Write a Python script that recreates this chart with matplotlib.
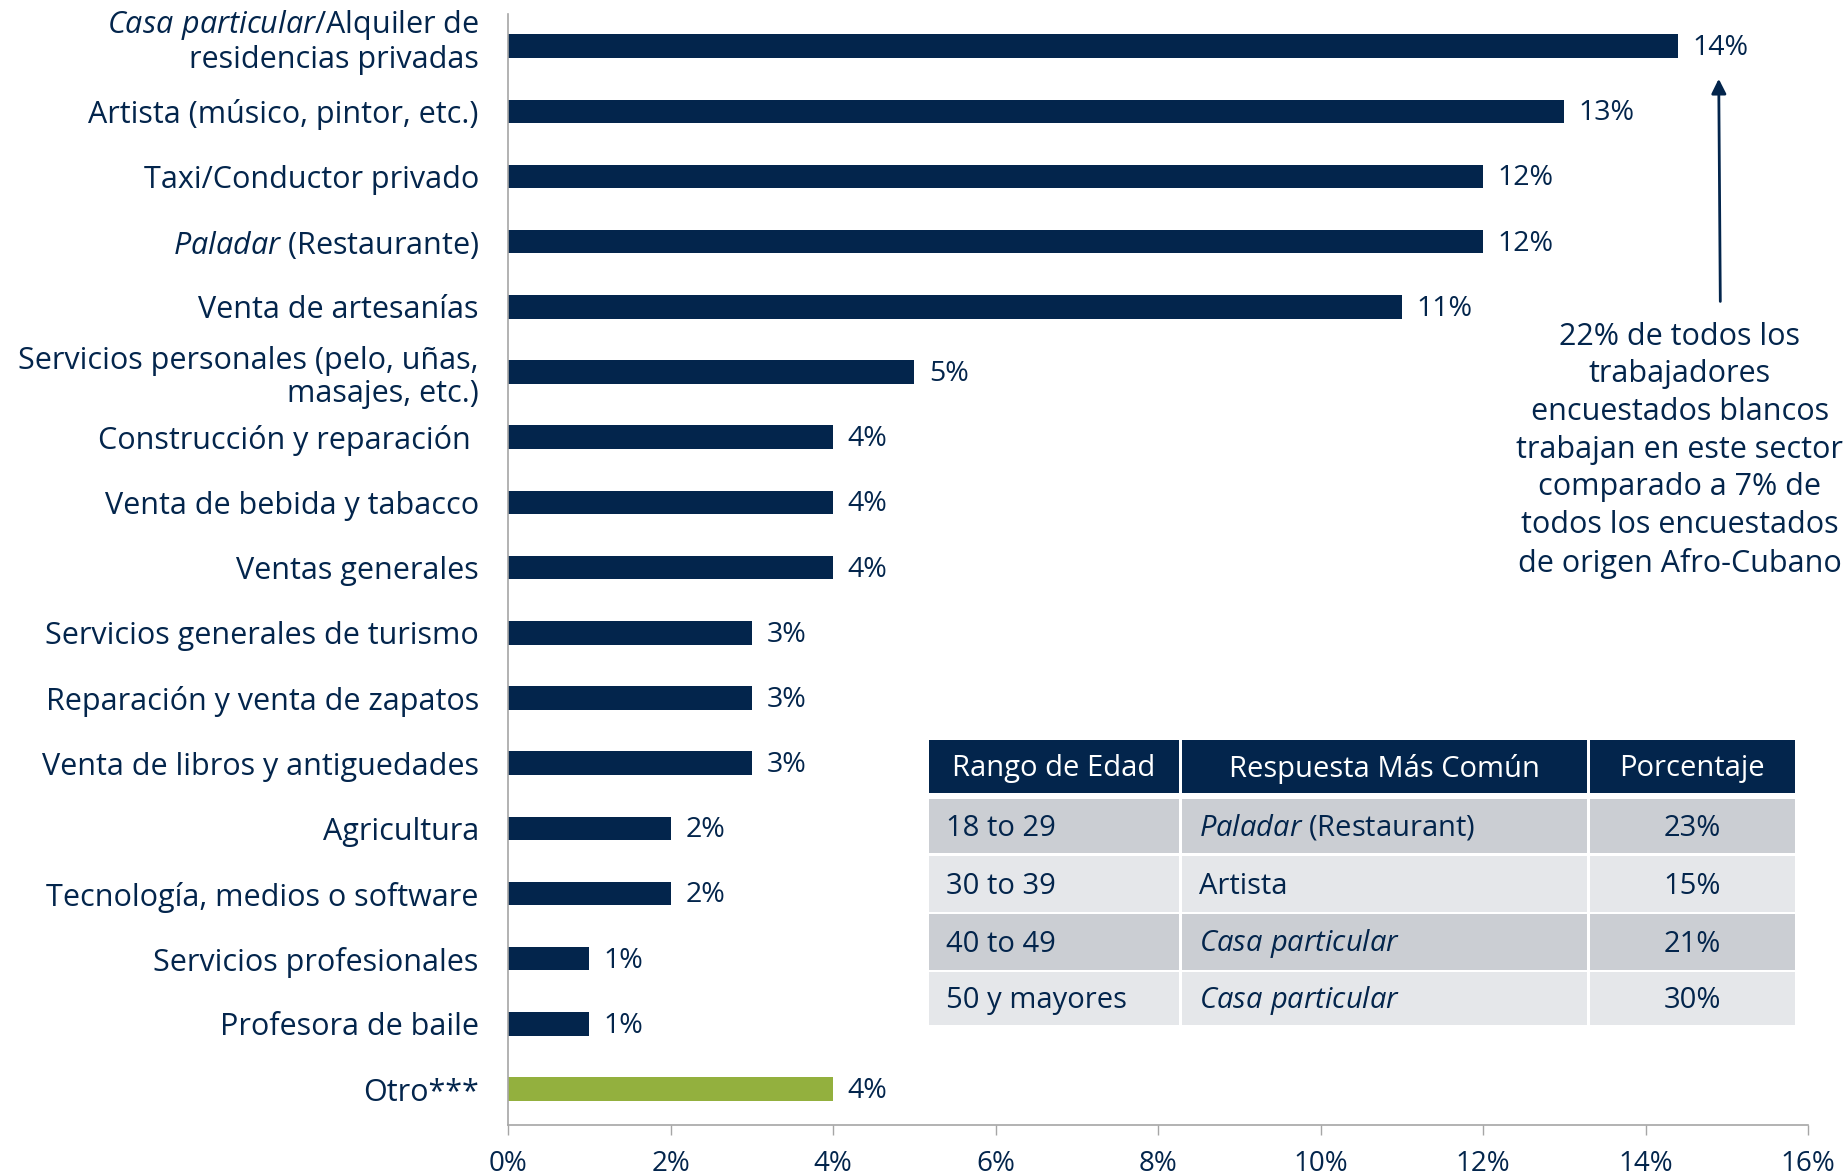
import numpy as np
import matplotlib.pyplot as plt
from matplotlib.patches import Rectangle

plt.rcParams['font.family'] = ['Open Sans', 'DejaVu Sans']
plt.rcParams['mathtext.fontset'] = 'custom'
plt.rcParams['mathtext.rm'] = 'Open Sans'
plt.rcParams['mathtext.it'] = 'Open Sans:italic'

NAVY = '#03254c'
GREEN = '#93b03e'
GRIS = '#a6a6a6'

#### datos del grafico
categorias = [
    r'$\it{Casa\ particular}$/Alquiler de' + '\nresidencias privadas',
    'Artista (músico, pintor, etc.)',
    'Taxi/Conductor privado',
    r'$\it{Paladar}$ (Restaurante)',
    'Venta de artesanías',
    'Servicios personales (pelo, uñas,\nmasajes, etc.)',
    'Construcción y reparación ',
    'Venta de bebida y tabacco',
    'Ventas generales',
    'Servicios generales de turismo',
    'Reparación y venta de zapatos',
    'Venta de libros y antiguedades',
    'Agricultura',
    'Tecnología, medios o software',
    'Servicios profesionales',
    'Profesora de baile',
    'Otro***',
]
valores = [14.4, 13, 12, 12, 11, 5, 4, 4, 4, 3, 3, 3, 2, 2, 1, 1, 4]
etiquetas = ['14%', '13%', '12%', '12%', '11%', '5%', '4%', '4%', '4%',
             '3%', '3%', '3%', '2%', '2%', '1%', '1%', '4%']

#### datos de la tabla
encabezado = ['Rango de Edad', 'Respuesta Más Común', 'Porcentaje']
edades = ['18 to 29', '30 to 39', '40 to 49', '50 y mayores']
respuestas = [r'$\it{Paladar}$ (Restaurant)', 'Artista',
              r'$\it{Casa\ particular}$', r'$\it{Casa\ particular}$']
porcentajes = ['23%', '15%', '21%', '30%']

nota = ('22% de todos los\ntrabajadores\nencuestados blancos\n'
        'trabajan en este sector\ncomparado a 7% de\n'
        'todos los encuestados\nde origen Afro-Cubano')

fig = plt.figure(figsize=(18.48, 11.76), dpi=100)
ax = fig.add_axes([0.2749, 0.0434, 0.7035, 0.9446])

y = np.arange(len(categorias))
colores = [NAVY] * (len(categorias) - 1) + [GREEN]
ax.barh(y, valores, height=0.36, color=colores)
for yi, v, t in zip(y, valores, etiquetas):
    ax.text(v + 0.18, yi + 0.03, t, va='center', ha='left', fontsize=20.5, color=NAVY)

ax.set_xlim(0, 16)
ax.set_ylim(16.55, -0.49)
ax.set_xticks(np.arange(0, 17, 2))
ax.set_xticklabels([f'{int(v)}%' for v in np.arange(0, 17, 2)], fontsize=20, color=NAVY)
ax.set_yticks(y)
# la primera etiqueta va un poco mas arriba que su barra
ax.set_yticklabels([''] + categorias[1:], fontsize=22, color=NAVY, linespacing=1.15)
ax.annotate(categorias[0], xy=(0, y[0] - 0.07), xycoords=('axes fraction', 'data'),
            xytext=(-21, 0), textcoords='offset points', ha='right', va='center',
            fontsize=22, color=NAVY, linespacing=1.15)
ax.tick_params(axis='y', length=0, pad=21)
ax.tick_params(axis='x', length=7, width=1, color=GRIS, pad=11, direction='out')
for s in ['top', 'right']:
    ax.spines[s].set_visible(False)
for s in ['left', 'bottom']:
    ax.spines[s].set_color(GRIS)
    ax.spines[s].set_linewidth(1.2)

# flecha y nota
ax.annotate('', xy=(14.9, 0.46), xytext=(14.92, 3.96),
            arrowprops=dict(arrowstyle='-|>', color=NAVY, lw=2, mutation_scale=22))
ax.text(14.42, 6.2, nota, ha='center', va='center', fontsize=22, color=NAVY,
        linespacing=1.33, clip_on=False)

#### tabla
tx = fig.add_axes([927.6 / 1848, 1 - 1025 / 1176, (1796 - 927.6) / 1848, (1025 - 740) / 1176])
W, H = 1796 - 927.6, 1025 - 740
tx.set_xlim(0, W)
tx.set_ylim(H, 0)
tx.axis('off')
cols = [0, 253, 661, W]
filas = [(0, 53), (59, 113), (116, 172), (174, 230), (232, H)]
fondos = [NAVY, '#cbced3', '#e5e7ea', '#cbced3', '#e5e7ea']
contenido = [encabezado] + [list(r) for r in zip(edades, respuestas, porcentajes)]
for i, ((y0, y1), fondo, fila) in enumerate(zip(filas, fondos, contenido)):
    for j in range(3):
        x0, x1 = cols[j], cols[j + 1]
        tx.add_patch(Rectangle((x0 + 1.5, y0), x1 - x0 - 3, y1 - y0, color=fondo, lw=0))
        c = 'white' if i == 0 else NAVY
        if i == 0 or j == 2:
            tx.text((x0 + x1) / 2, (y0 + y1) / 2 + 2, fila[j], ha='center', va='center',
                    fontsize=21, color=c)
        else:
            tx.text(x0 + 18, (y0 + y1) / 2 + 2, fila[j], ha='left', va='center',
                    fontsize=21, color=c)

fig.savefig('out.png', dpi=100)
